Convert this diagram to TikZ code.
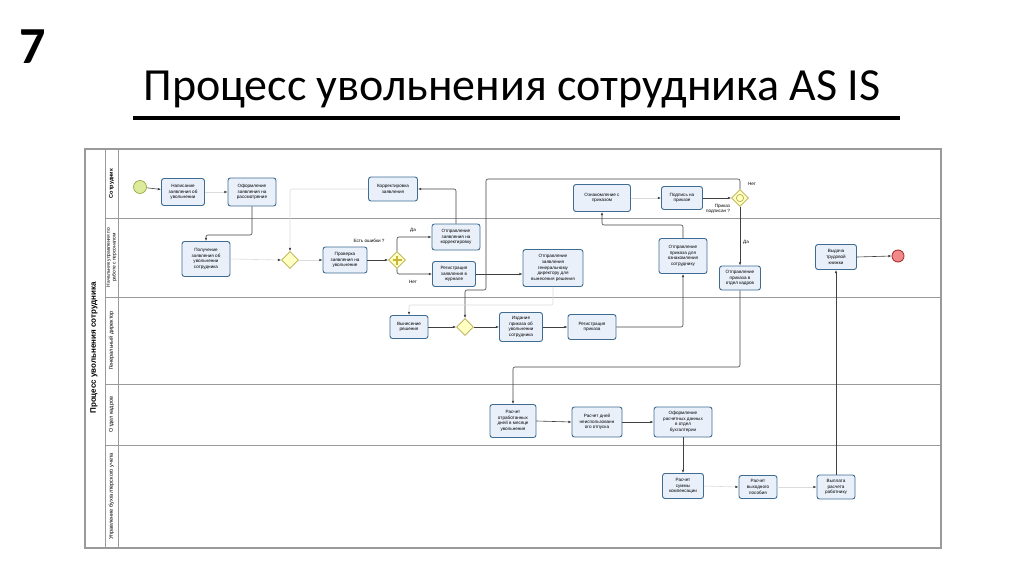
\documentclass[tikz,border=0pt]{standalone}
\usepackage{fontspec}
\setmainfont{Liberation Sans}
\newfontfamily\titlefont{Carlito}
\usetikzlibrary{arrows.meta,shapes.geometric}
\definecolor{taskfill}{HTML}{EAF0FA}
\definecolor{taskborder}{HTML}{3F6C92}
\definecolor{gwfill}{HTML}{FFFFC2}
\definecolor{gwborder}{HTML}{B8AA50}
\definecolor{plusc}{HTML}{C9B43A}
\definecolor{startfill}{HTML}{DCEB9A}
\definecolor{startborder}{HTML}{8FA040}
\definecolor{endfill}{HTML}{F08A8A}
\definecolor{endborder}{HTML}{B03030}
\definecolor{lanec}{HTML}{9A9A9A}
\definecolor{flowc}{HTML}{404040}
\begin{document}
\begin{tikzpicture}[x=1pt,y=-1pt,
  task/.style={draw=taskborder, fill=taskfill, line width=0.9pt, rounded corners=2.5pt,
    align=center, font=\fontsize{4.6}{5.6}\selectfont, inner sep=1pt},
  gw/.style={diamond, draw=gwborder, fill=gwfill, line width=0.7pt,
    minimum width=17, minimum height=17, inner sep=0pt},
  flow/.style={draw=flowc, line width=0.6pt, rounded corners=2pt,
    -{Latex[length=3.2pt,width=2.6pt]}},
  faint/.style={draw=gray!28, line width=0.6pt, rounded corners=2pt,
    -{Latex[length=3.2pt,width=2.6pt,color=flowc]}},
  lbl/.style={font=\fontsize{4.6}{5.5}\selectfont, inner sep=0pt, align=center},
  lanelbl/.style={rotate=90, font=\fontsize{5.5}{6.3}\selectfont, align=center, inner sep=0pt},
  lane/.style={draw=lanec, line width=1pt}
]
\useasboundingbox (0,0) rectangle (1024,575);

% slide number and title
\node[font=\titlefont\bfseries\fontsize{52}{56}\selectfont, anchor=base] (num) at (33,64) {7};
\node[font=\titlefont\fontsize{46}{50}\selectfont, anchor=base] (title) at (512,101)
  {Процесс увольнения сотрудника AS IS};
\draw[line width=3pt] (133,118) -- (900,118);

% pool and lanes
\draw[lane, line width=1.3pt] (85,149) rectangle (941,548);
\draw[lane] (105,149) -- (105,548);
\draw[lane] (118,149) -- (118,548);
\draw[lane] (105,218) -- (941,218);
\draw[lane] (105,297) -- (941,297);
\draw[lane] (105,384) -- (941,384);
\draw[lane] (105,445) -- (941,445);

\node[rotate=90, font=\bfseries\fontsize{8}{9}\selectfont] (pooltitle) at (94,348) {Процесс увольнения сотрудника};
\node[lanelbl, font=\bfseries\fontsize{5.5}{6.3}\selectfont] (l1) at (111.5,183.5) {Сотрудник};
\node[lanelbl, font=\fontsize{4.9}{5.8}\selectfont] (l2) at (111.5,257.5) {Начальник управления по\\работе с персоналом};
\node[lanelbl] (l3) at (111.5,340.5) {Генеральный директор};
\node[lanelbl] (l4) at (111.5,414.5) {Отдел кадров};
\node[lanelbl] (l5) at (111.5,496.5) {Управление бухгалтерского учета};

% events
\node[circle, draw=startborder, fill=startfill, line width=0.6pt, minimum size=13pt, inner sep=0pt] (start) at (140,187) {};
\node[circle, draw=endborder, fill=endfill, line width=0.9pt, minimum size=12pt, inner sep=0pt] (end) at (898,256) {};

% tasks
\node[task, minimum width=43, minimum height=27] (t1) at (183,192) {Написание\\заявления об\\увольнении};
\node[task, minimum width=48, minimum height=28] (t2) at (252,192) {Оформление\\заявления на\\рассмотрение};
\node[task, minimum width=48, minimum height=35] (t3) at (206,259) {Получение\\заявления об\\увольнении\\сотрудника};
\node[task, minimum width=49, minimum height=24] (corr) at (393,189) {Корректировка\\заявления};
\node[task, minimum width=44, minimum height=26] (t5) at (345,260) {Проверка\\заявления на\\увольнение};
\node[task, minimum width=48, minimum height=26] (t6) at (456,237) {Отправление\\заявления на\\корректировку};
\node[task, minimum width=43, minimum height=25] (t7) at (454,274) {Регистрация\\заявления в\\журнале};
\node[task, minimum width=60, minimum height=37] (t8) at (553,268) {Отправление\\заявления\\генеральному\\директору для\\вынесения решения};
\node[task, minimum width=57, minimum height=27] (t9) at (602,198) {Ознакомление с\\приказом};
\node[task, minimum width=41, minimum height=23] (t10) at (682,198) {Подпись на\\приказе};
\node[task, minimum width=48, minimum height=35] (t11) at (683,256) {Отправление\\приказа для\\ознакомления\\сотруднику};
\node[task, minimum width=41, minimum height=24] (t12) at (740,278) {Отправление\\приказа в\\отдел кадров};
\node[task, minimum width=41, minimum height=25] (t13) at (836,257) {Выдача\\трудовой\\книжки};
\node[task, minimum width=38, minimum height=23] (t14) at (409,327) {Вынесение\\решения};
\node[task, minimum width=43, minimum height=29] (t15) at (521,327) {Издание\\приказа об\\увольнении\\сотрудника};
\node[task, minimum width=48, minimum height=25] (t16) at (592,327) {Регистрация\\приказа};
\node[task, minimum width=46, minimum height=33] (t17) at (513,421) {Расчет\\отработанных\\дней в месяце\\увольнения};
\node[task, minimum width=50, minimum height=30] (t18) at (597,422) {Расчет дней\\неиспользованн\\ого отпуска};
\node[task, minimum width=58, minimum height=30] (t19) at (683,422) {Оформление\\расчетных данных\\в отдел\\бухгалтерии};
\node[task, minimum width=41, minimum height=25] (t20) at (683,486) {Расчет\\суммы\\компенсации};
\node[task, minimum width=38, minimum height=23] (t21) at (758,487) {Расчет\\выходного\\пособия};
\node[task, minimum width=38, minimum height=24] (t22) at (836,487) {Выплата\\расчета\\работнику};

% gateways
\node[gw] (gw1) at (290,260) {};
\node[gw] (gw2) at (397,260) {};
\draw[plusc, line width=1.8pt] (gw2.center) ++(-4.5,0) -- ++(9,0) (gw2.center) ++(0,-4.5) -- ++(0,9);
\node[gw] (gw3) at (465,327) {};
\node[gw] (gw5) at (740,198) {};
\draw[gwborder, line width=0.7pt] (gw5.center) circle[radius=3.6pt];

% labels
\node[lbl] (q1) at (369,241) {Есть ошибки ?};
\node[lbl] (yes1) at (413,230) {Да};
\node[lbl] (no1) at (413,282) {Нет};
\node[lbl] (no2) at (752,184) {Нет};
\node[lbl, align=right] (q2) at (718,209) {Приказ\\подписан ?};
\node[lbl] (yes2) at (746,242) {Да};

% flows
\draw[flow] (start) -- (t1);
\draw[faint] (t1) -- (t2);
\draw[flow] (t2.south) -- (252,235) -| (t3.north);
\draw[faint] (corr.west) -| (gw1.north);
\draw[faint] (t3.east) -- (gw1.west);
\draw[flow] (t6.north) |- (corr.east);
\draw[faint] (gw1.east) -- (t5.west);
\draw[flow] (t5.east) -- (gw2.west);
\draw[flow] (gw2.north) |- (t6.west);
\draw[flow] (gw2.south) |- (t7.west);
\draw[flow] (t7.east) -- (t7.east -| t8.west);
\draw[flow] (gw5.north) |- (486,179) -- (486,290) -| (gw3.north);
\draw[faint] (t8.south) -- (553,305) -| (t14.north);
\draw[flow] (t14.east) -- (gw3.west);
\draw[flow] (gw3.east) -- (t15.west);
\draw[flow] (t15.east) -- (t16.west);
\draw[flow] (t16.east) -| (t11.south);
\draw[flow] (t11.north) -- (683,225) -| (t9.south);
\draw[faint] (t9.east) -- (t10.west);
\draw[flow] (t10.east) -- (gw5.west);
\draw[flow] (gw5.south) -- (t12.north);
\draw[flow] (t12.south) -- (740,367) -| (t17.north);
\draw[flow] (t17.east) -- (t18.west);
\draw[flow] (t18.east) -- (t19.west);
\draw[flow] (t19.south) -- (t20.north);
\draw[faint] (t20.east) -- (t21.west);
\draw[faint] (t21.east) -- (t22.west);
\draw[flow] (t22.north) -- (t13.south);
\draw[flow] (t13.east) -- (end.west);
\end{tikzpicture}
\end{document}
